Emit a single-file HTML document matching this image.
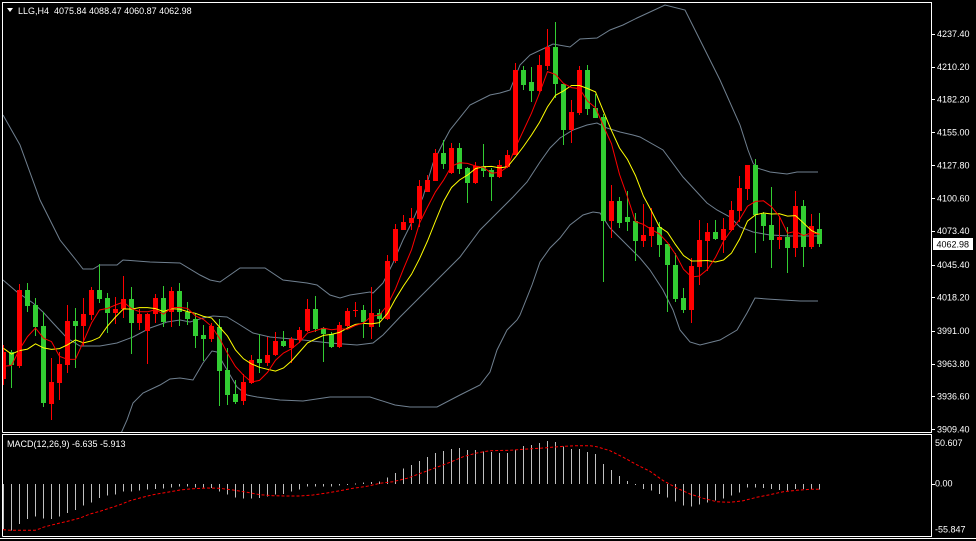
<!DOCTYPE html>
<html><head><meta charset="utf-8">
<style>
html,body{margin:0;padding:0;background:#000;}
body{width:976px;height:541px;overflow:hidden;position:relative;}
svg{position:absolute;left:0;top:0;}
text{font-family:"Liberation Sans",sans-serif;font-size:9px;fill:#fff;}
</style></head>
<body>
<svg id="s" width="976" height="541" viewBox="0 0 976 541" xmlns="http://www.w3.org/2000/svg">
<defs>
<clipPath id="cm"><rect x="3" y="3" width="928" height="429"/></clipPath>
<clipPath id="cd"><rect x="3" y="435" width="928" height="101"/></clipPath>
</defs>
<g clip-path="url(#cm)" fill="none" stroke="#708090" stroke-width="1">
<polyline points="3,115 20,145 40,200 60,240 76,260 83,269 93,269 100,265 117,265 123,260 150,262 180,263 200,275 210,280 220,282 240,268 265,268 283,280 307,283 317,285 330,295 340,298 350,295 370,292 373,293 383,283 393,263 403,240 413,220 423,197 433,163 443,143 450,130 470,105 490,95 500,93 510,90 520,65 530,55 547,47 553,44 570,47 580,39 597,38 610,30 623,25 637,18 650,12 665,5 685,10 700,40 720,80 740,125 748,150 753,163 757,168 770,172 787,174 797,172 818,172"/>
<polyline points="3,280 17,292 33,303 43,312 53,323 67,338 80,346 100,346 117,343 133,337 150,328 167,322 180,320 190,322 203,318 213,316 227,317 237,323 253,333 270,337 303,340 330,343 357,345 373,343 383,335 400,317 420,297 440,277 460,257 480,230 500,210 513,197 527,182 540,162 550,148 560,138 573,130 587,125 597,123 607,128 620,132 633,135 640,137 663,150 683,177 707,203 717,210 730,217 740,227 753,232 770,235 790,236 818,236"/>
<polyline points="118,440 127,420 133,403 143,393 160,385 170,379 180,378 193,380 203,363 212,351 217,352 223,363 237,387 247,395 257,397 280,400 303,401 330,397 357,397 370,397 395,405 410,407 437,407 460,395 480,385 490,372 497,350 507,330 517,320 520,315 532,285 540,262 550,248 560,238 570,225 583,215 593,212 600,213 610,228 620,238 630,248 640,258 650,270 663,290 673,310 680,330 690,342 700,345 720,340 737,330 747,313 755,298 767,299 783,300 800,301 818,301"/>
</g>
<g id="main" clip-path="url(#cm)"></g>
<g id="macd" clip-path="url(#cd)"></g>
<polyline clip-path="url(#cd)" fill="none" stroke="#ff0000" stroke-width="1" stroke-dasharray="3,2" points="3,529.7 11,530.3 35,530.3 40,528.7 43,527.3 53,524.7 63,522.3 70,520.7 80,518 90,514 100,511.3 110,508 120,504.7 130,500.7 140,498 153,494.7 167,492.3 180,490 193,488.7 207,488 220,488.3 233,490 247,492.3 260,494.7 273,495.7 287,496 300,496 313,495 327,493 340,490.7 353,488.3 367,486.3 380,483.3 393,481.7 407,478.3 410,477.3 423.3,472.3 436.7,467.3 450,462.3 463.3,456.7 476.7,453 490,450.7 510,450.3 523.3,449.3 543.3,448 563.3,446.3 576.7,445.7 590,445.7 596.7,446.7 610,450.7 623.3,457.3 636.7,464.7 650,471.3 663.3,480.7 676.7,488 690,494 703.3,498.3 716.7,501.7 730,502.3 743.3,500.7 756.7,497.3 770,494.7 783.3,491.7 796.7,490.3 810,489.3 820,489.3"/>
<!-- frames -->
<g stroke="#fff" stroke-width="1" fill="none" shape-rendering="crispEdges">
<polyline points="2.5,432.5 2.5,2.5 931.5,2.5 931.5,432.5 2.5,432.5"/>
<polyline points="2.5,536.5 2.5,434.5 931.5,434.5 931.5,536.5 2.5,536.5"/>
<line x1="0" y1="538.5" x2="976" y2="538.5"/>
<g id="ticks"></g>
</g>
<!-- header -->
<polygon points="7,8 13,8 10,12" fill="#fff"/>
<text x="18" y="14" style="white-space:pre" xml:space="preserve">LLG,H4  4075.84 4088.47 4060.87 4062.98</text>
<text x="7" y="447">MACD(12,26,9) -6.635 -5.913</text>
<!-- axis labels -->
<text x="937" y="37">4237.40</text>
<text x="937" y="69.8">4210.20</text>
<text x="937" y="102.6">4182.20</text>
<text x="937" y="135.3">4155.00</text>
<text x="937" y="168.3">4127.80</text>
<text x="937" y="201.3">4100.60</text>
<text x="937" y="234">4073.40</text>
<text x="937" y="267.8">4045.40</text>
<text x="937" y="300.6">4018.20</text>
<text x="937" y="333.8">3991.00</text>
<text x="937" y="366.8">3963.80</text>
<text x="937" y="399.6">3936.60</text>
<text x="937" y="432.6">3909.40</text>
<rect x="933" y="238" width="40" height="12" fill="#fff"/>
<text x="936.5" y="247.4" style="fill:#000">4062.98</text>
<text x="935" y="446">50.607</text>
<text x="935" y="486.6">0.00</text>
<text x="935" y="532.6">-55.847</text>
</svg>
<script>
(function(){
var NS="http://www.w3.org/2000/svg";
var C=[
['r',345,352,379,385],['g',350,352,365,388],['r',284,290,366,368],['g',283,290,306,312],['g',298,305,327,336],
['g',312,326,403,407],['r',358,382,404,420],['r',352,364,383,400],['r',305,321,365,373],['g',308,321,326,368],
['r',298,314,326,346],['r',287,290,315,320],['g',264,290,299,303],['g',293,298,313,333],['r',297,309,313,324],
['r',276,299,309,318],['g',287,299,323,354],['r',309,314,323,330],['r',313,314,331,364],['r',294,298,314,323],
['g',286,298,322,327],['r',287,291,312,327],['g',283,291,312,326],['g',302,312,319,325],['g',313,319,336,348],
['g',325,335,339,361],['r',323,326,339,342],['g',319,327,371,406],['g',348,370,395,405],['g',380,394,402,404],
['r',374,382,401,405],['r',355,360,383,384],['g',334,359,363,373],['r',337,355,363,366],['r',332,341,355,356],
['g',331,341,346,347],['r',337,339,348,363],['r',327,330,340,343],['r',299,309,331,332],['g',296,309,329,332],
['g',327,328,334,362],['g',332,334,347,348],['r',322,325,347,348],['r',308,311,326,327],['r',302,310,311,317],
['g',305,310,322,338],['r',287,313,327,339],['g',309,313,319,327],['r',255,261,319,320],['r',224,229,261,263],
['r',215,222,230,230],['r',208,218,223,230],['r',180,186,219,227],['r',175,180,192,192],['r',149,153,181,181],
['g',140,153,164,169],['r',143,148,173,174],['g',143,148,169,174],['g',167,168,183,203],['r',162,166,183,184],
['g',144,166,171,177],['g',168,170,177,201],['r',160,165,177,178],['r',150,155,167,168],['r',63,70,155,155],
['g',66,70,85,90],['g',67,82,91,102],['r',55,65,91,92],['r',29,47,66,70],['g',22,47,84,98],
['g',84,84,130,145],['r',100,112,130,143],['r',66,70,113,115],['g',65,70,109,115],['g',94,108,118,118],
['g',114,117,221,282],['r',185,201,221,238],['g',197,201,223,228],['g',191,217,222,231],['g',213,221,241,261],
['r',204,235,241,247],['r',208,227,236,247],['g',222,227,245,257],['g',244,244,265,312],['g',253,265,299,302],
['g',288,298,310,313],['r',258,266,310,323],['r',220,240,267,285],['r',223,232,241,271],['g',220,232,239,240],
['r',218,229,240,253],['r',201,210,230,231],['r',176,188,211,222],['r',165,165,189,200],['g',159,165,215,253],
['g',212,214,226,241],['g',187,225,240,268],['r',216,237,240,249],['g',227,237,248,273],['r',191,206,248,257],
['g',200,206,247,267],['r',214,226,247,249],['g',213,229,244,247]
];
var H=[529,530.7,524,519,516.7,518.3,519,516.7,513,510,505.7,502.3,498,495.7,494.7,491.7,491.3,490.7,489.7,489,
488.3,487.3,486.7,486.7,487.3,487.3,488,491.3,494.7,497.3,498.3,498.3,498,496.7,494.7,494,491.7,489.7,486.7,486.3,
486.3,486.3,485.3,485,483.3,482.7,482,481.7,477.7,473,468.7,465,461,457,453,451,449,448,450,450,
451.7,452,453,453,449.7,446,445,443,441,442,446.3,449,449,452,454,464,470,476,481,484,
489,490.7,494,497.7,501.7,505.7,506.7,504.7,502.7,500.7,498.7,495.7,492.7,487.7,487.7,488,489,490,490.7,489,
489,489,489.7];
var main=document.getElementById('main'),macd=document.getElementById('macd');
function el(p,n,a){var e=document.createElementNS(NS,n);for(var k in a)e.setAttribute(k,a[k]);p.appendChild(e);return e;}
var closes=[];
for(var i=0;i<C.length;i++){
 var c=C[i],col=c[0]=='r'?'#ff0000':'#32cd32',x=3+8*i;
 el(main,'rect',{x:x,y:c[1],width:1,height:Math.max(1,c[4]-c[1]),fill:col,'shape-rendering':'crispEdges'});
 el(main,'rect',{x:x-2,y:c[2],width:5,height:Math.max(1,c[3]-c[2]),fill:col,'shape-rendering':'crispEdges'});
 closes.push(c[0]=='r'?c[2]:c[3]);
}
var pre=[318,318,318,370,370,370,370];
var all=pre.concat(closes);
function sma(n){var pts=[];for(var i=0;i<closes.length;i++){var s=0,j=i+pre.length;for(var k=0;k<n;k++)s+=all[j-k];pts.push((3.5+8*i)+','+(s/n).toFixed(1));}return pts.join(' ');}
el(main,'polyline',{points:sma(8),fill:'none',stroke:'#ffff00','stroke-width':1});
el(main,'polyline',{points:sma(5),fill:'none',stroke:'#ff0000','stroke-width':1});
var z=484;
for(var i=0;i<H.length;i++){
 var y=H[i],t=Math.min(y,z),b=Math.max(y,z);
 el(macd,'rect',{x:3+8*i,y:t,width:1,height:Math.max(1,b-t),fill:'#c0c0c0','shape-rendering':'crispEdges'});
}
var sig=document.querySelector('polyline[stroke-dasharray]');sig.parentNode.appendChild(sig);
var tk=document.getElementById('ticks');
[33.7,66.5,99.3,132,165,198,230.7,264.5,297.3,330.5,363.5,396.3,429.3,483.5].forEach(function(y){
 el(tk,'line',{x1:932,x2:935,y1:Math.round(y)+0.5,y2:Math.round(y)+0.5});
});
})();
</script>
</body></html>
